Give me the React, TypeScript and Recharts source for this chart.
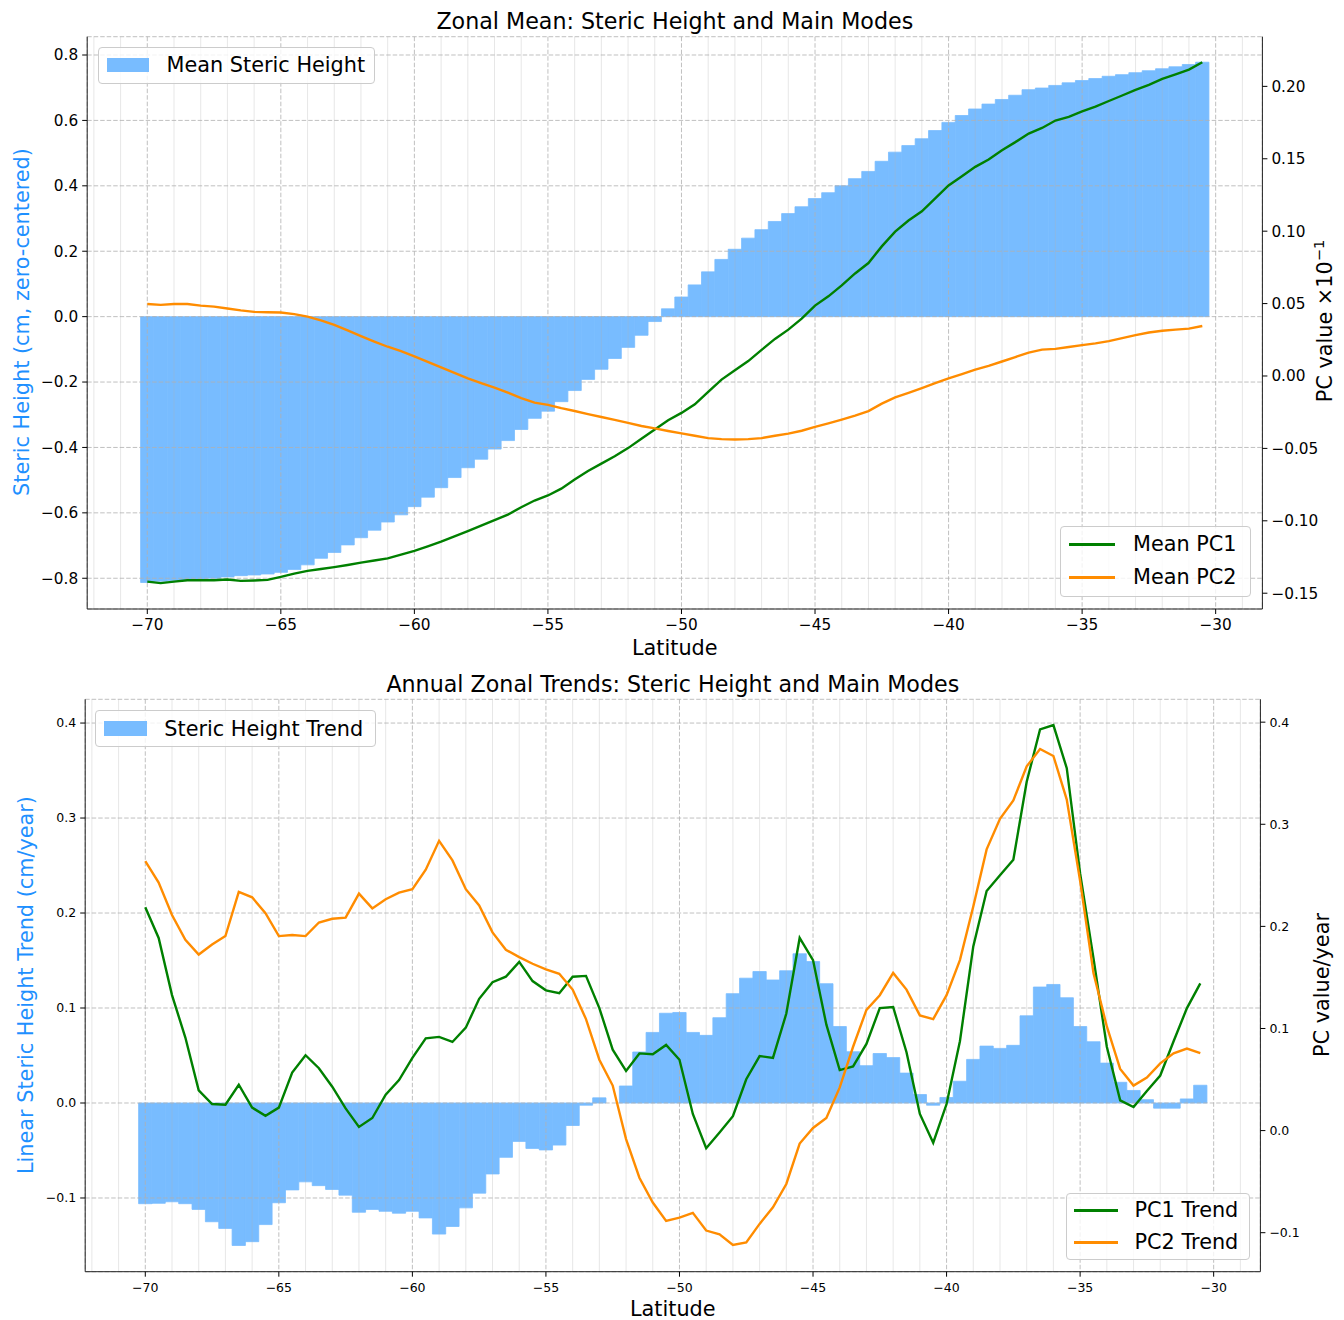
import React from "react";
import { ComposedChart, Bar, Line, XAxis, YAxis, CartesianGrid, ReferenceLine } from "recharts";

// latitude bin centres, -70 .. -30.5 every half degree
const latitudes = Array.from({ length: 80 }, (_, i) => -70 + i * 0.5);

// top panel: zonal mean steric height (cm) and mean PCs (x10^-1)
const meanSteric = [
  -0.813, -0.809, -0.807, -0.806, -0.804, -0.8, -0.796, -0.792, -0.79, -0.787,
  -0.782, -0.773, -0.759, -0.739, -0.721, -0.698, -0.676, -0.653, -0.628, -0.606,
  -0.581, -0.552, -0.523, -0.492, -0.462, -0.436, -0.405, -0.379, -0.345, -0.311,
  -0.289, -0.26, -0.226, -0.192, -0.161, -0.128, -0.094, -0.057, -0.015, 0.024,
  0.06, 0.097, 0.137, 0.175, 0.206, 0.24, 0.266, 0.291, 0.315, 0.336,
  0.361, 0.379, 0.4, 0.422, 0.444, 0.475, 0.503, 0.523, 0.544, 0.569,
  0.594, 0.615, 0.635, 0.65, 0.664, 0.677, 0.694, 0.699, 0.707, 0.715,
  0.722, 0.728, 0.735, 0.74, 0.746, 0.752, 0.758, 0.764, 0.771, 0.778,
];
const meanPC1 = [
  -0.142, -0.143, -0.142, -0.141, -0.141, -0.141, -0.1405, -0.1415, -0.1412, -0.1408,
  -0.1387, -0.1365, -0.1346, -0.1333, -0.132, -0.1305, -0.1289, -0.1274, -0.1259, -0.1233,
  -0.1207, -0.1176, -0.1144, -0.1108, -0.1072, -0.1034, -0.0996, -0.0957, -0.0906, -0.086,
  -0.0825, -0.0778, -0.0715, -0.0656, -0.0605, -0.0554, -0.0498, -0.0434, -0.037, -0.0306,
  -0.0255, -0.0196, -0.0109, -0.0025, 0.0039, 0.0103, 0.018, 0.0256, 0.032, 0.0396,
  0.0486, 0.055, 0.0626, 0.0708, 0.078, 0.0895, 0.0997, 0.1074, 0.1137, 0.1227,
  0.1316, 0.138, 0.1444, 0.1495, 0.1559, 0.1615, 0.1674, 0.1713, 0.1764, 0.1789,
  0.1827, 0.186, 0.1899, 0.1937, 0.1976, 0.2011, 0.2052, 0.2083, 0.2116, 0.2167,
];
const meanPC2 = [
  0.0497, 0.0491, 0.0497, 0.0497, 0.0486, 0.0479, 0.0466, 0.0453, 0.0443, 0.044,
  0.0438, 0.0427, 0.041, 0.0384, 0.0353, 0.0315, 0.0276, 0.0238, 0.0202, 0.0172,
  0.0136, 0.0097, 0.0059, 0.0021, -0.0017, -0.005, -0.0081, -0.0115, -0.0153, -0.0184,
  -0.0199, -0.0222, -0.0242, -0.0263, -0.0283, -0.0303, -0.0324, -0.0345, -0.0362, -0.038,
  -0.0396, -0.0413, -0.0429, -0.0436, -0.0439, -0.0436, -0.0429, -0.0413, -0.0398, -0.0378,
  -0.0352, -0.0327, -0.0301, -0.0273, -0.0242, -0.0191, -0.0148, -0.0117, -0.0084, -0.005,
  -0.0017, 0.0013, 0.0044, 0.007, 0.01, 0.0131, 0.0162, 0.0182, 0.0187, 0.02,
  0.0213, 0.0225, 0.0241, 0.0261, 0.0282, 0.03, 0.0312, 0.032, 0.0327, 0.0345,
];

// bottom panel: linear trends
const trendSteric = [
  -0.106, -0.1056, -0.104, -0.106, -0.112, -0.125, -0.132, -0.15, -0.146, -0.128,
  -0.105, -0.0915, -0.083, -0.087, -0.091, -0.097, -0.115, -0.112, -0.114, -0.116,
  -0.114, -0.121, -0.138, -0.13, -0.1104, -0.0949, -0.0747, -0.0572, -0.0404, -0.0478,
  -0.0494, -0.0443, -0.0237, -0.0023, 0.0054, 0.0, 0.0179, 0.0537, 0.0743, 0.0945,
  0.0953, 0.0743, 0.0712, 0.0898, 0.1151, 0.1314, 0.1384, 0.1295, 0.1392, 0.1571,
  0.1489, 0.1256, 0.0805, 0.054, 0.0393, 0.0521, 0.0478, 0.0315, 0.0089, -0.0023,
  0.0058, 0.0229, 0.0459, 0.0599, 0.0575, 0.0607, 0.0918, 0.1221, 0.1248, 0.1108,
  0.0805, 0.0645, 0.042, 0.0218, 0.0132, 0.0035, -0.0054, -0.0054, 0.0043, 0.0187,
];
const trendPC1 = [
  0.2187, 0.1887, 0.1327, 0.0911, 0.0394, 0.026, 0.0254, 0.0449, 0.0225, 0.0145,
  0.0225, 0.0568, 0.0738, 0.0611, 0.043, 0.0217, 0.0036, 0.0123, 0.0351, 0.0495,
  0.0712, 0.0904, 0.0918, 0.0868, 0.1008, 0.1291, 0.1453, 0.1507, 0.1652, 0.1464,
  0.1374, 0.1345, 0.1507, 0.1515, 0.12, 0.0792, 0.0585, 0.0756, 0.0748, 0.0839,
  0.0694, 0.0163, -0.0173, -0.0018, 0.0141, 0.0503, 0.073, 0.0712, 0.1146, 0.1887,
  0.167, 0.1037, 0.0593, 0.0629, 0.0849, 0.12, 0.1211, 0.0767, 0.0163, -0.0119,
  0.026, 0.0875, 0.1804, 0.2346, 0.2501, 0.2653, 0.3416, 0.3929, 0.3972, 0.3549,
  0.2519, 0.1688, 0.0821, 0.0296, 0.0231, 0.0387, 0.0539, 0.0875, 0.12, 0.1442,
];
const trendPC2 = [
  0.2639, 0.2429, 0.2111, 0.1869, 0.1724, 0.1822, 0.1905, 0.2338, 0.2285, 0.2129,
  0.1905, 0.1916, 0.1905, 0.2038, 0.2075, 0.2086, 0.2321, 0.2176, 0.2266, 0.2331,
  0.2364, 0.2555, 0.2838, 0.2646, 0.2364, 0.2205, 0.1941, 0.1771, 0.1699, 0.1634,
  0.158, 0.1536, 0.1381, 0.1092, 0.0694, 0.0441, -0.0083, -0.0462, -0.0705, -0.0885,
  -0.0853, -0.0806, -0.0979, -0.1015, -0.112, -0.1095, -0.0914, -0.0751, -0.0523, -0.0127,
  0.0026, 0.0123, 0.0423, 0.0821, 0.1182, 0.1326, 0.1544, 0.1381, 0.1128, 0.1092,
  0.1326, 0.167, 0.2194, 0.2754, 0.3054, 0.3234, 0.3567, 0.3737, 0.3669, 0.3242,
  0.2447, 0.1544, 0.102, 0.0604, 0.0441, 0.052, 0.0658, 0.0756, 0.0803, 0.0759,
];

// ticks
const latTicks = Array.from({ length: 44 }, (_, i) => -72 + i);
const majorLat = [-70, -65, -60, -55, -50, -45, -40, -35, -30];
const minorLat = latTicks.filter((v) => v % 5 !== 0);
const topLeftTicks = [-0.8, -0.6, -0.4, -0.2, 0, 0.2, 0.4, 0.6, 0.8];
const topRightTicks = [-0.15, -0.1, -0.05, 0, 0.05, 0.1, 0.15, 0.2];
const botLeftTicks = [-0.1, 0, 0.1, 0.2, 0.3, 0.4];
const botRightTicks = [-0.1, 0, 0.1, 0.2, 0.3, 0.4];

const topData = latitudes.map((lat, i) => ({
  lat,
  sh: meanSteric[i],
  pc1: meanPC1[i],
  pc2: meanPC2[i],
}));
const botData = latitudes.map((lat, i) => ({
  lat,
  sh: trendSteric[i],
  pc1: trendPC1[i],
  pc2: trendPC2[i],
}));

const BLUE = "#78bcff";
const GREEN = "#008000";
const ORANGE = "#ff8c00";
const FRAME = "#222";
const xDomain: [number, number] = [-72.25, -28.25];

const fmt = (d: number) => (v: number) => {
  const s = Math.abs(v).toFixed(d);
  return v < -1e-9 ? "\u2212" + s : s;
};

interface PanelProps {
  data: any[];
  top: number;
  plotTop: number;
  plotH: number;
  leftW: number;
  rightW: number;
  leftDomain: [number, number];
  rightDomain: [number, number];
  leftTicks: number[];
  rightTicks: number[];
  leftFmt: (v: number) => string;
  rightFmt: (v: number) => string;
  fs: number;
  xMargin: number;
  names: string[];
}

const Panel = (p: PanelProps) => {
  const H = 640;
  return (
    <div style={{ position: "absolute", left: 0, top: p.top }}>
      <ComposedChart
        width={1344}
        height={H}
        data={p.data}
        barCategoryGap={0}
        barGap={0}
        margin={{ top: p.plotTop, right: 0, bottom: 0, left: 0 }}
      >
        <XAxis
          xAxisId="minor"
          type="number"
          dataKey="lat"
          domain={xDomain}
          allowDataOverflow
          ticks={minorLat}
          interval={0}
          height={0}
          tick={false}
          tickSize={2.5}
          tickLine={{ stroke: "#000" }}
          axisLine={false}
        />
        <XAxis
          xAxisId="x"
          type="number"
          dataKey="lat"
          domain={xDomain}
          allowDataOverflow
          ticks={majorLat}
          interval={0}
          height={H - p.plotTop - p.plotH}
          tickSize={5}
          tickMargin={p.xMargin}
          tickFormatter={fmt(0)}
          tick={{ fontSize: p.fs, fill: "#000" }}
          tickLine={{ stroke: "#000" }}
          axisLine={{ stroke: FRAME, strokeWidth: 1 }}
        />
        <XAxis
          xAxisId="top"
          orientation="top"
          type="number"
          dataKey="lat"
          domain={xDomain}
          allowDataOverflow
          height={0}
          tick={false}
          tickLine={false}
          axisLine={{ stroke: FRAME, strokeWidth: 1 }}
        />
        <YAxis
          yAxisId="left"
          type="number"
          width={p.leftW}
          domain={p.leftDomain}
          allowDataOverflow
          ticks={p.leftTicks}
          interval={0}
          tickFormatter={p.leftFmt}
          tickSize={5}
          tickMargin={4}
          tick={{ fontSize: p.fs, fill: "#000" }}
          tickLine={{ stroke: "#000" }}
          axisLine={{ stroke: FRAME, strokeWidth: 1 }}
        />
        <YAxis
          yAxisId="right"
          orientation="right"
          type="number"
          width={p.rightW}
          domain={p.rightDomain}
          allowDataOverflow
          ticks={p.rightTicks}
          interval={0}
          tickFormatter={p.rightFmt}
          tickSize={5}
          tickMargin={4}
          tick={{ fontSize: p.fs, fill: "#000" }}
          tickLine={{ stroke: "#000" }}
          axisLine={{ stroke: FRAME, strokeWidth: 1 }}
        />
        <Bar
          xAxisId="x"
          yAxisId="left"
          dataKey="sh"
          name={p.names[0]}
          fill={BLUE}
          stroke={BLUE}
          strokeWidth={0.8}
          barSize={13.3}
          isAnimationActive={false}
        />
        {minorLat.map((v) => (
          <ReferenceLine
            key={v}
            x={v}
            xAxisId="x"
            yAxisId="left"
            stroke="#b0b0b0"
            strokeOpacity={0.3}
            strokeWidth={1}
            zIndex={350}
          />
        ))}
        <CartesianGrid
          xAxisId="x"
          yAxisId="left"
          stroke="#b0b0b0"
          strokeOpacity={0.8}
          strokeDasharray="4.5 2"
          zIndex={360}
        />
        <Line
          xAxisId="x"
          yAxisId="right"
          type="linear"
          dataKey="pc1"
          name={p.names[1]}
          stroke={GREEN}
          strokeWidth={2.4}
          dot={false}
          isAnimationActive={false}
        />
        <Line
          xAxisId="x"
          yAxisId="right"
          type="linear"
          dataKey="pc2"
          name={p.names[2]}
          stroke={ORANGE}
          strokeWidth={2.4}
          dot={false}
          isAnimationActive={false}
        />
      </ComposedChart>
    </div>
  );
};

const Txt = ({ x, y, size, color, rotate, children }: any) => (
  <div
    style={{
      position: "absolute",
      left: x,
      top: y,
      transform: `translate(-50%, -50%)${rotate ? " rotate(-90deg)" : ""}`,
      fontSize: size,
      color: color || "#000",
      whiteSpace: "nowrap",
      lineHeight: 1,
    }}
  >
    {children}
  </div>
);

const box = (left: number, top: number, width: number, height: number): React.CSSProperties => ({
  position: "absolute",
  left,
  top,
  width,
  height,
  boxSizing: "border-box",
  border: "1px solid #cccccc",
  borderRadius: 4,
  background: "rgba(255,255,255,0.8)",
  zIndex: 5,
});

const legendText = (left: number, cy: number): React.CSSProperties => ({
  position: "absolute",
  left,
  top: cy,
  transform: "translateY(-50%)",
  fontSize: 20.8,
  lineHeight: 1,
  whiteSpace: "nowrap",
  color: "#000",
});

const PatchLegend = ({ left, top, w, h, label }: any) => (
  <div style={box(left, top, w, h)}>
    <div style={{ position: "absolute", left: 8, top: 10, width: 42.5, height: 14.5, background: BLUE }} />
    <div style={legendText(68, h / 2 - 1)}>{label}</div>
  </div>
);

const LineLegend = ({ left, top, w, h, rows, lineW, textX, labels }: any) => (
  <div style={box(left, top, w, h)}>
    {labels.map((lab: string, i: number) => (
      <React.Fragment key={lab}>
        <div
          style={{
            position: "absolute",
            left: 7.5,
            top: Math.round(rows[i] - 1.5),
            width: lineW,
            height: 3,
            background: i === 0 ? GREEN : ORANGE,
          }}
        />
        <div style={legendText(textX, rows[i])}>{lab}</div>
      </React.Fragment>
    ))}
  </div>
);

const topNames = ["Mean Steric Height", "Mean PC1", "Mean PC2"];
const botNames = ["Steric Height Trend", "PC1 Trend", "PC2 Trend"];

export default function App() {
  return (
    <div
      style={{
        position: "absolute",
        left: 0,
        top: 0,
        width: 1344,
        height: 1320,
        background: "#fff",
        fontFamily: "'DejaVu Sans', sans-serif",
        overflow: "hidden",
      }}
    >
      <Panel
        data={topData}
        top={0}
        plotTop={36.7}
        plotH={572.3}
        leftW={87.2}
        rightW={81.6}
        leftDomain={[-0.894, 0.856]}
        rightDomain={[-0.1609, 0.2343]}
        leftTicks={topLeftTicks}
        rightTicks={topRightTicks}
        leftFmt={fmt(1)}
        rightFmt={fmt(2)}
        fs={15.3}
        xMargin={5.6}
        names={topNames}
      />
      <Panel
        data={botData}
        top={660}
        plotTop={39.3}
        plotH={572.4}
        leftW={85.2}
        rightW={83.6}
        leftDomain={[-0.1776, 0.425]}
        rightDomain={[-0.1382, 0.4224]}
        leftTicks={botLeftTicks}
        rightTicks={botRightTicks}
        leftFmt={fmt(1)}
        rightFmt={fmt(1)}
        fs={12.5}
        xMargin={6.6}
        names={botNames}
      />

      <Txt x={674.8} y={20.5} size={22.2}>Zonal Mean: Steric Height and Main Modes</Txt>
      <Txt x={672.8} y={684} size={22.2}>Annual Zonal Trends: Steric Height and Main Modes</Txt>
      <Txt x={674.8} y={648} size={20.8}>Latitude</Txt>
      <Txt x={672.8} y={1309} size={20.8}>Latitude</Txt>
      <Txt x={22} y={322} size={20.8} color="#1e90ff" rotate>
        Steric Height (cm, zero-centered)
      </Txt>
      <Txt x={1325} y={321} size={20.8} rotate>
        PC value ×10<sup style={{ fontSize: "0.7em", verticalAlign: "0.55em", lineHeight: 0 }}>−1</sup>
      </Txt>
      <Txt x={26} y={985} size={20.8} color="#1e90ff" rotate>
        Linear Steric Height Trend (cm/year)
      </Txt>
      <Txt x={1322} y={985} size={20.8} rotate>
        PC value/year
      </Txt>

      <PatchLegend left={97.6} top={46.6} w={277} h={37.4} label={topNames[0]} />
      <LineLegend
        left={1060}
        top={525.7}
        w={191}
        h={71}
        rows={[17.8, 50.3]}
        lineW={46.7}
        textX={72}
        labels={[topNames[1], topNames[2]]}
      />
      <PatchLegend left={95.3} top={710} w={280.5} h={37.2} label={botNames[0]} />
      <LineLegend
        left={1065.5}
        top={1192.6}
        w={184.2}
        h={67.4}
        rows={[16.6, 48]}
        lineW={44}
        textX={68}
        labels={[botNames[1], botNames[2]]}
      />
    </div>
  );
}
